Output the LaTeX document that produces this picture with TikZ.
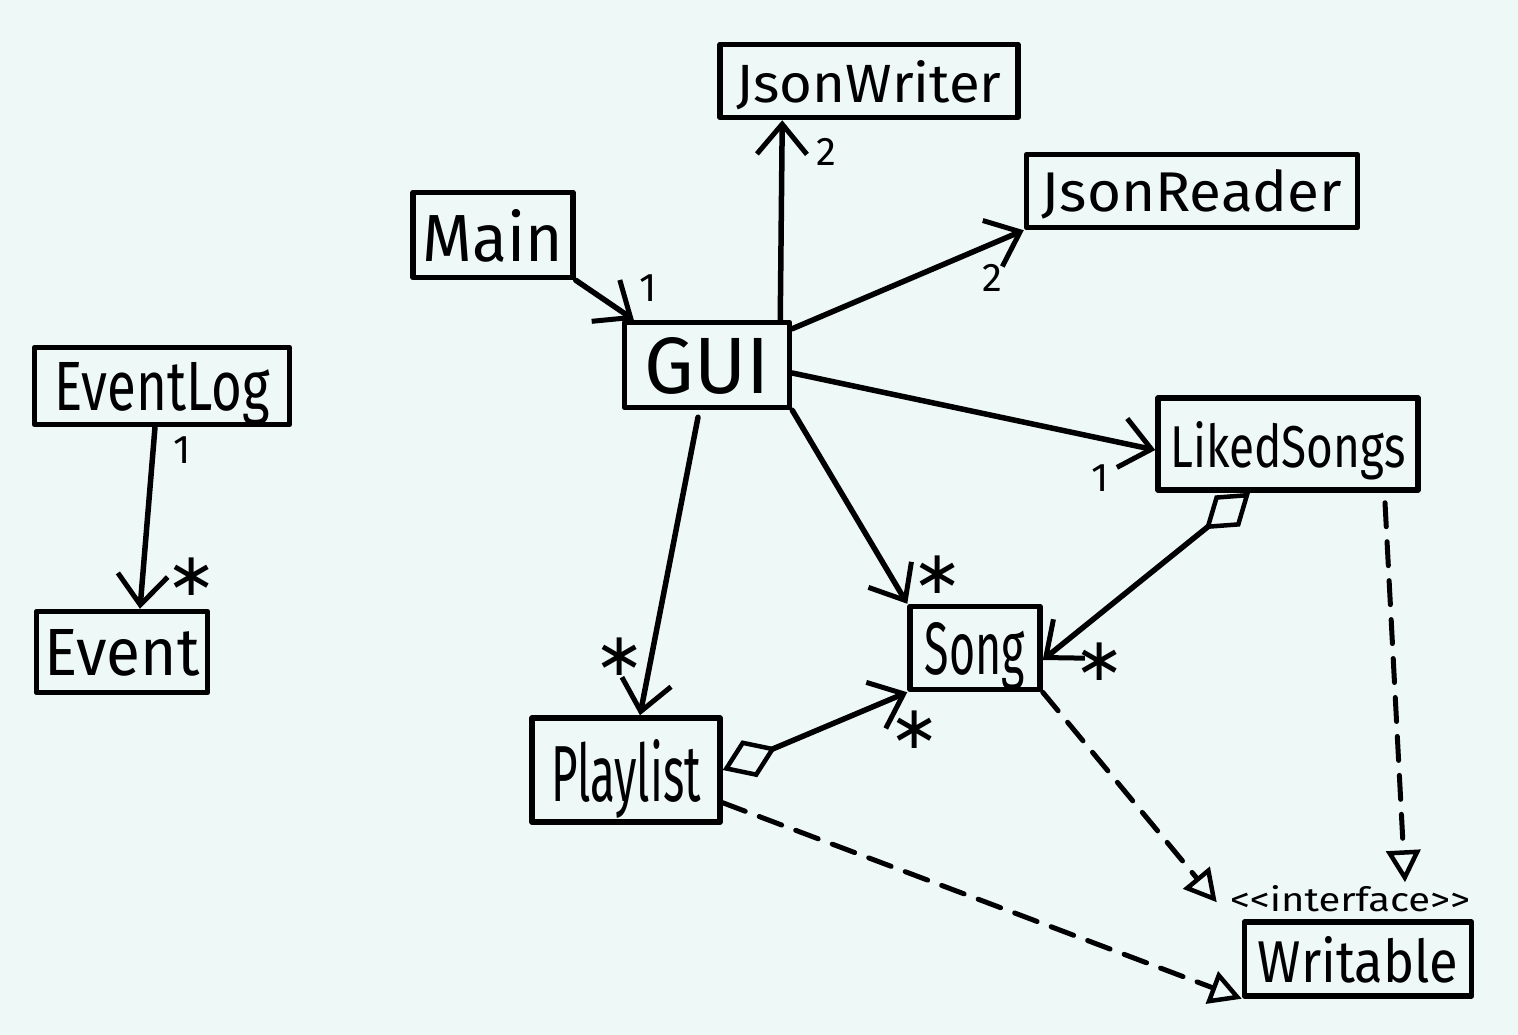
\documentclass[tikz,border=0pt]{standalone}
\usepackage{fontspec}
\usepackage{graphicx}
\newfontfamily\handfont{Fira Sans}
\newfontfamily\symfont{DejaVu Sans}
\usetikzlibrary{arrows.meta}
\definecolor{bgmint}{RGB}{238,248,247}
\newcommand\fitword[3]{\resizebox{#1pt}{#2pt}{\handfont #3}}
\tikzset{
  ink/.style={line width=5.5pt, line cap=round, line join=round, black},
  cls/.style={ink, draw, inner sep=0pt, text depth=0pt, anchor=center},
  assoc/.style={ink, -{Straight Barb[length=30pt,width=50pt,line width=5pt]}},
  aggr/.style={ink, {Diamond[open,length=58pt,width=40pt,line width=4.5pt]}-{Straight Barb[length=30pt,width=50pt,line width=5pt]}},
  realize/.style={ink, line width=5pt, dash pattern=on 24pt off 15pt, -{Triangle[open,length=32pt,width=34pt,line width=4.5pt]}},
  mult/.style={inner sep=0pt, font=\handfont\fontsize{40}{40}\selectfont},
  star/.style={inner sep=0pt, font=\symfont\fontsize{60}{60}\selectfont}
}
\begin{document}
\begin{tikzpicture}[x=1pt,y=-1pt]
\fill[bgmint] (0,0) rectangle (1518,1035);
\useasboundingbox (0,0) rectangle (1518,1035);

% classes
\node[cls, minimum width=298pt, minimum height=73pt] (jw) at (869,81) {\fitword{265}{42}{JsonWriter}};
\node[cls, minimum width=331pt, minimum height=73pt] (jr) at (1192,191) {\fitword{300}{42}{JsonReader}};
\node[cls, minimum width=160pt, minimum height=85pt] (main) at (493,235) {\fitword{140}{52}{Main}};
\node[cls, minimum width=165pt, minimum height=85pt] (gui) at (707,365) {\fitword{125}{56}{GUI}};
\node[cls, minimum width=255pt, minimum height=77pt] (elog) at (162,386) {\fitword{215}{48}{EventLog}};
\node[cls, minimum width=171pt, minimum height=81pt] (event) at (122,652) {\fitword{155}{46}{Event}};
\node[cls, minimum width=260pt, minimum height=92pt] (liked) at (1288,444) {\fitword{235}{46}{LikedSongs}};
\node[cls, minimum width=130pt, minimum height=83pt] (song) at (975,648) {\fitword{100}{52}{Song}};
\node[cls, minimum width=188pt, minimum height=104pt] (play) at (626,770) {\fitword{150}{62}{Playlist}};
\node[cls, minimum width=227pt, minimum height=74pt] (writ) at (1358,959) {\fitword{200}{46}{Writable}};
\node[inner sep=0pt, text depth=0pt] (iface) at (1350,898) {\fitword{240}{26}{<<interface>>}};

% associations
\draw[assoc] (main.south east) -- ([xshift=12pt]gui.north west);
\draw[assoc] ([xshift=-12pt]gui.north east) -- ([xshift=65pt]jw.south west);
\draw[assoc] ([yshift=-9pt]gui.north east) -- (jr.south west);
\draw[assoc] ([yshift=-8pt]gui.east) -- ([yshift=-6pt]liked.west);
\draw[assoc] (gui.south east) -- (song.north west);
\draw[assoc] ([xshift=-9pt,yshift=-7pt]gui.south) -- ([xshift=14pt]play.north);
\draw[assoc] ([xshift=-7pt]elog.south) -- ([xshift=18pt]event.north);

% aggregations
\draw[aggr] (play.east) -- (song.south west);
\draw[aggr] ([xshift=-38pt]liked.south) -- ([yshift=-12pt]song.east);

% realizations
\draw[realize] (song.south east) -- ([xshift=-25pt,yshift=17pt]writ.north west);
\draw[realize] ([xshift=97pt,yshift=-10pt]liked.south) -- ([xshift=47pt,yshift=37pt]writ.north);
\draw[realize] ([yshift=22pt]play.south east) -- (writ.south west);

% multiplicities
\node[mult] (m1) at (648,288) {1};
\node[mult] (m2) at (826,152) {2};
\node[mult] (m3) at (992,278) {2};
\node[mult] (m4) at (1100,478) {1};
\node[mult] (m9) at (182,450) {1};
\node[star] (m5) at (938,575) {∗};
\node[star] (m6) at (620,657) {∗};
\node[star] (m7) at (915,730) {∗};
\node[star] (m8) at (1100,662) {∗};
\node[star] (m10) at (192,577) {∗};
\end{tikzpicture}
\end{document}
